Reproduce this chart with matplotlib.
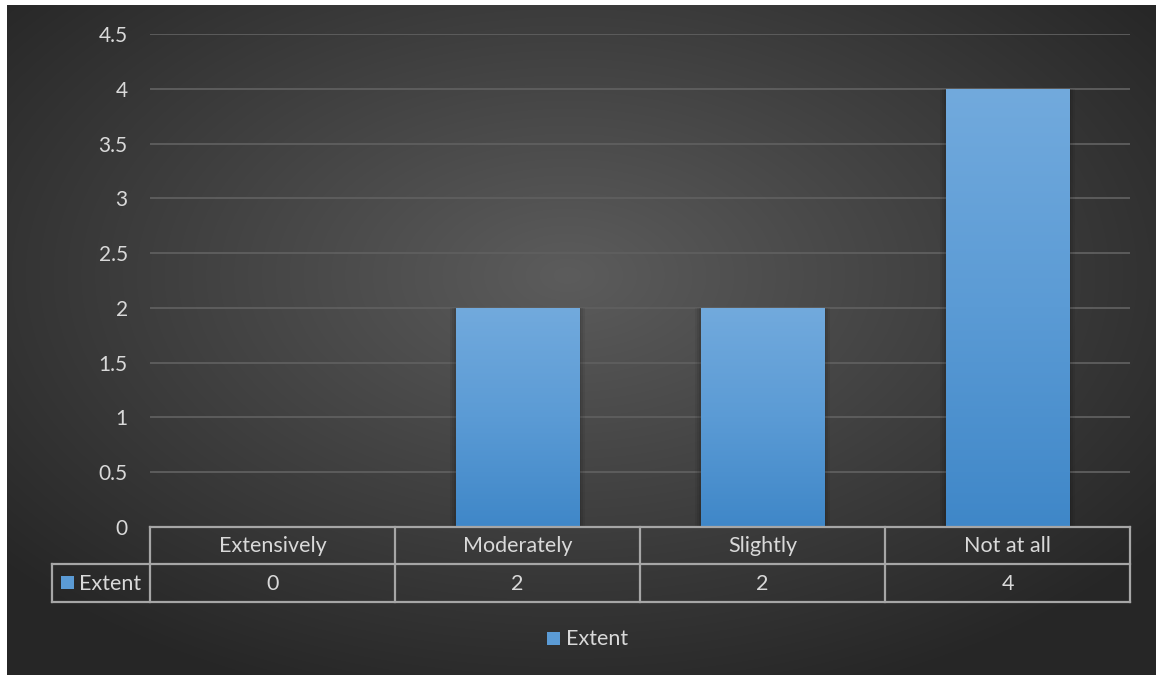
import numpy as np
import matplotlib.pyplot as plt
from matplotlib.colors import LinearSegmentedColormap

categories = ['Extensively', 'Moderately', 'Slightly', 'Not at all']
values = [0, 2, 2, 4]
series_name = 'Extent'
y_ticks = [0, 0.5, 1, 1.5, 2, 2.5, 3, 3.5, 4, 4.5]

W, H = 1156, 675
text_col = '#d9d9d9'
line_col = '#a6a6a6'
plt.rcParams['font.family'] = ['Lato', 'DejaVu Sans']

fig = plt.figure(figsize=(W / 100, H / 100), dpi=100)
fig.patch.set_facecolor('white')

# dark radial background (chart area starts a few px in from left/top)
bg = fig.add_axes([7 / W, 0, 1 - 7 / W, 1 - 5 / H])
bg.set_axis_off()
yy, xx = np.mgrid[0:670, 0:1149]
d = np.sqrt(((xx - 560) / 600.0) ** 2 + ((yy - 270) / 360.0) ** 2)
shade = 92 - 54 * np.clip(d / 1.25, 0, 1)
bg.imshow(np.dstack([shade] * 3) / 255.0, aspect='auto', interpolation='bilinear')

# pixel overlay for the table and legend
ov = fig.add_axes([0, 0, 1, 1], zorder=3)
ov.set_xlim(0, W)
ov.set_ylim(H, 0)
ov.set_axis_off()
ov.patch.set_alpha(0)

ax = fig.add_axes([150 / W, (H - 527) / H, 980 / W, 493 / H], zorder=2)
ax.patch.set_alpha(0)
x = np.arange(len(categories))
bars = ax.bar(x, values, width=0.505, color='#5b9bd5', zorder=3)
ax.set_yticks(y_ticks)
ax.set_yticklabels([f'{t:g}' for t in y_ticks])
ax.tick_params(axis='y', length=0, pad=16, labelsize=15, labelcolor=text_col)
ax.set_xticks([])
for s in ax.spines.values():
    s.set_visible(False)
for t in y_ticks[1:]:
    ax.axhline(t, color='#5f5f5f', lw=1.3, zorder=1)

# vertical gradient fill + faint side shadow on each bar
grad = LinearSegmentedColormap.from_list('bar', ['#3f87c8', '#5b9bd5', '#72aadd'])
for b in bars:
    x0, w, h = b.get_x(), b.get_width(), b.get_height()
    if h <= 0:
        continue
    for k, a in zip([0.024, 0.016, 0.008], [0.06, 0.07, 0.08]):
        ax.add_patch(plt.Rectangle((x0 - k, 0), w + 2 * k, h,
                                   color='black', alpha=a, lw=0, zorder=2))
    g = np.linspace(0, 1, 256).reshape(-1, 1)
    im = ax.imshow(g, cmap=grad, origin='lower', aspect='auto',
                   extent=(x0, x0 + w, 0, h), zorder=4)
    im.set_clip_path(b)
ax.set_xlim(-0.5, len(categories) - 0.5)
ax.set_ylim(0, 4.5)

# data table under the axis
left, col_w = 150, 245
r0, r1, r2 = 527, 564, 602
lab_l = 52
lk = dict(color=line_col, lw=1.6, solid_capstyle='projecting')
right = left + col_w * len(categories)
ov.plot([left, right], [r0, r0], **lk)
ov.plot([lab_l, right], [r1, r1], **lk)
ov.plot([lab_l, right], [r2, r2], **lk)
ov.plot([lab_l, lab_l], [r1, r2], **lk)
for i in range(len(categories) + 1):
    ov.plot([left + i * col_w] * 2, [r0, r2], **lk)
for i, (c, v) in enumerate(zip(categories, values)):
    cx = left + (i + 0.5) * col_w
    ov.text(cx, (r0 + r1) / 2 + 1, c, ha='center', va='center', fontsize=15.5, color=text_col)
    ov.text(cx, (r1 + r2) / 2 + 1, f'{v:g}', ha='center', va='center', fontsize=15.5, color=text_col)
ov.add_patch(plt.Rectangle((61, 576), 13, 13, color='#5b9bd5', lw=0))
ov.text(79, (r1 + r2) / 2 + 1, series_name, ha='left', va='center', fontsize=15.5, color=text_col)

# legend
ov.add_patch(plt.Rectangle((547, 632), 13, 13, color='#5b9bd5', lw=0))
ov.text(566, 639, series_name, ha='left', va='center', fontsize=15.5, color=text_col)

fig.savefig('out.png', dpi=100)
